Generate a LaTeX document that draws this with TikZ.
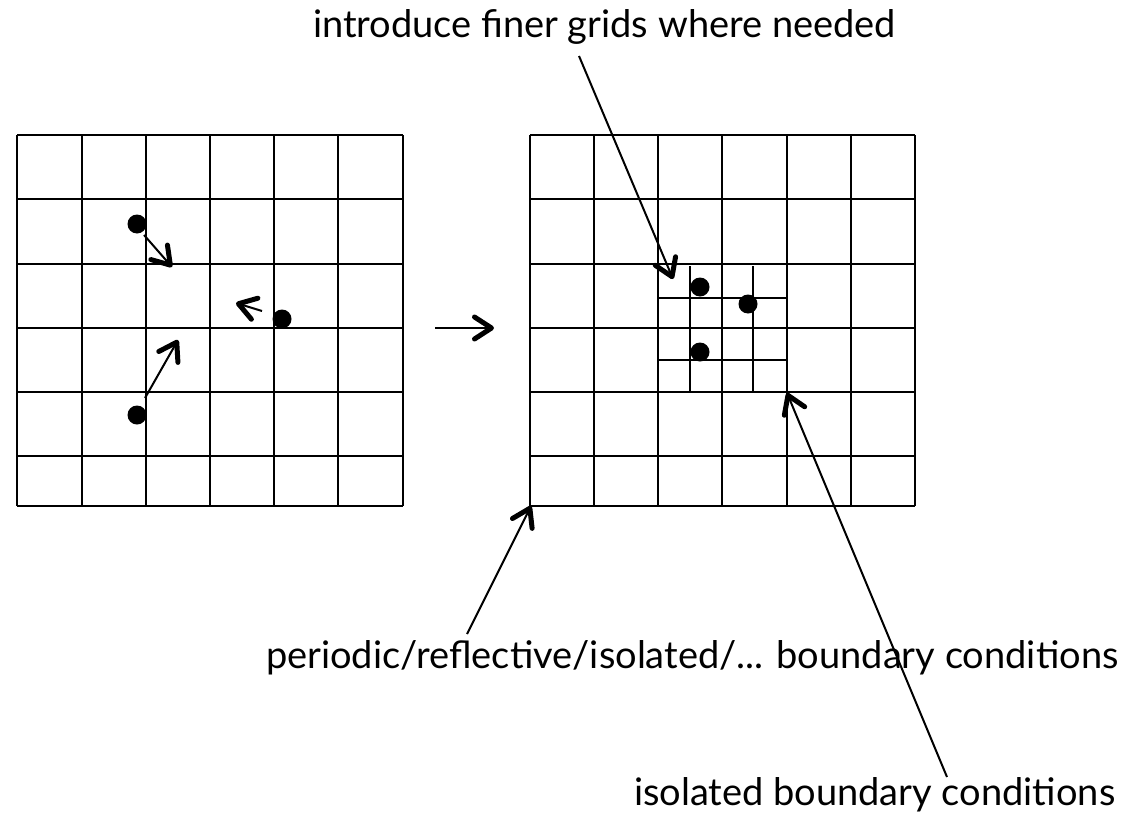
\documentclass[tikz,border=0pt]{standalone}
\usepackage{fontspec}
\setmainfont{Lato}
\usetikzlibrary{arrows.meta}
\begin{document}
\begin{tikzpicture}[x=0.5pt,y=-0.5pt, line width=1pt,
  arr/.style={line width=1pt, -{Straight Barb[length=8.5pt,width=11pt,line width=2.5pt,round]}},
  dot/.style={circle,fill=black,draw=none,inner sep=0pt,minimum size=9.5pt},
  lbl/.style={font=\fontsize{19}{23}\selectfont, inner sep=0pt, anchor=base west}]
\useasboundingbox (0,0) rectangle (1138,824);
% left grid
\foreach \x in {17,82,146,210,274,338,403} \draw (\x,135) -- (\x,506);
\foreach \y in {135,199,264,328,392,456,506} \draw (17,\y) -- (403,\y);
% right grid
\foreach \x in {530,594,658,722,787,851,915} \draw (\x,135) -- (\x,506);
\foreach \y in {135,199,264,328,392,456,506} \draw (530,\y) -- (915,\y);
% finer grid
\foreach \x in {690,753} \draw (\x,266) -- (\x,393);
\foreach \y in {298,360} \draw (659,\y) -- (786,\y);
% dots left
\node[dot] (l1) at (137,224) {};
\node[dot] (l2) at (282,319) {};
\node[dot] (l3) at (137,415) {};
% dots right
\node[dot] (r1) at (700,287) {};
\node[dot] (r2) at (748,304) {};
\node[dot] (r3) at (700,352) {};
% velocity arrows
\coordinate (v1s) at (144,235); \coordinate (v1e) at (172,267);
\coordinate (v2s) at (262,311); \coordinate (v2e) at (236,303);
\coordinate (v3s) at (145,398); \coordinate (v3e) at (178,340);
\draw[arr] (v1s) -- (v1e);
\draw[arr] (v2s) -- (v2e);
\draw[arr] (v3s) -- (v3e);
% middle arrow
\coordinate (ms) at (435,328); \coordinate (me) at (494,328);
\draw[arr] (ms) -- (me);
% labels
\node[lbl] (top) at (312,38) {introduce finer grids where needed};
\node[lbl] (bc) at (265,668) {periodic/reflective/isolated/... boundary conditions};
\node[lbl] (iso) at (633,805) {isolated boundary conditions};
% annotation arrows
\coordinate (ts) at (579,56); \coordinate (te) at (673,279);
\coordinate (bs) at (467,634); \coordinate (be) at (531,506);
\coordinate (is) at (947,777); \coordinate (ie) at (787,393);
\draw[arr] (ts) -- (te);
\draw[arr] (bs) -- (be);
\draw[arr] (is) -- (ie);
\end{tikzpicture}
\end{document}
